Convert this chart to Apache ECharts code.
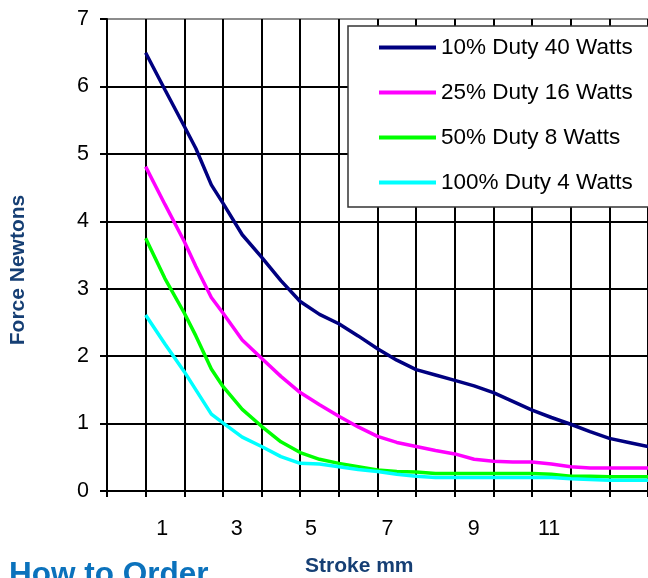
<!DOCTYPE html>
<html>
<head>
<meta charset="utf-8">
<script src="https://cdn.jsdelivr.net/npm/echarts@6/dist/echarts.min.js"></script>
<style>
  html, body { margin: 0; padding: 0; background: #fff; }
  #chart { width: 648px; height: 578px; }
</style>
</head>
<body>
<div id="chart"></div>
<script>
// ---- data ----
const seriesNames = ['10% Duty 40 Watts', '25% Duty 16 Watts', '50% Duty 8 Watts', '100% Duty 4 Watts'];
const strokeMm = [1, 1.5, 2, 2.3, 2.7, 3, 3.5, 4, 4.5, 5, 5.5, 6, 6.5, 7, 7.5, 8, 8.5, 9, 9.5, 10, 10.5, 11, 11.5, 12, 12.5, 13, 13.5, 14];
const duty10 = [6.50, 5.95, 5.41, 5.08, 4.54, 4.27, 3.80, 3.47, 3.12, 2.81, 2.62, 2.48, 2.30, 2.11, 1.94, 1.80, 1.72, 1.64, 1.56, 1.46, 1.33, 1.20, 1.09, 0.99, 0.88, 0.78, 0.72, 0.66];
const duty25 = [4.81, 4.25, 3.70, 3.33, 2.87, 2.64, 2.24, 1.97, 1.70, 1.46, 1.28, 1.11, 0.95, 0.81, 0.72, 0.66, 0.60, 0.55, 0.47, 0.44, 0.43, 0.43, 0.40, 0.36, 0.34, 0.34, 0.34, 0.34];
const duty50 = [3.75, 3.15, 2.64, 2.30, 1.81, 1.55, 1.21, 0.96, 0.73, 0.57, 0.47, 0.41, 0.36, 0.31, 0.29, 0.28, 0.26, 0.26, 0.26, 0.26, 0.26, 0.26, 0.25, 0.22, 0.22, 0.21, 0.21, 0.21];
const duty100 = [2.61, 2.18, 1.77, 1.50, 1.14, 1.01, 0.80, 0.66, 0.51, 0.41, 0.40, 0.36, 0.32, 0.29, 0.25, 0.22, 0.20, 0.20, 0.20, 0.20, 0.20, 0.20, 0.20, 0.18, 0.17, 0.16, 0.16, 0.16];
const xTickLabels = ['1', '3', '5', '7', '9', '11'];
const yTickValues = [0, 1, 2, 3, 4, 5, 6, 7];

// ---- layout / style ----
const xLabelPos = [1.43, 3.36, 5.28, 7.26, 9.49, 11.44];
const colors = ['#000080', '#FF00FF', '#00FF00', '#00FFFF'];
const FONT = '"Liberation Sans", Arial, sans-serif';

const allSeries = [duty10, duty25, duty50, duty100];
const chart = echarts.init(document.getElementById('chart'), null, { renderer: 'canvas' });

const gridColors = yTickValues.map((v, i) => i === yTickValues.length - 1 ? '#8c8c8c' : '#000');

const option = {
  animation: false,
  backgroundColor: '#fff',
  grid: { left: 107, top: 19, right: -4, bottom: 87, containLabel: false },
  xAxis: {
    type: 'value',
    min: 0, max: 14, interval: 1,
    axisLine: { show: true, onZero: false, lineStyle: { color: '#000', width: 2 } },
    axisTick: { show: true, length: 6, lineStyle: { color: '#000', width: 2 } },
    splitLine: { show: true, lineStyle: { color: '#000', width: 2 } },
    axisLabel: {
      show: true,
      customValues: xLabelPos,
      formatter: function (v) {
        let best = 0, d = Infinity;
        xLabelPos.forEach((p, i) => { if (Math.abs(p - v) < d) { d = Math.abs(p - v); best = i; } });
        return xTickLabels[best];
      },
      margin: 27,
      fontSize: 21.5,
      color: '#000',
      fontFamily: FONT
    }
  },
  yAxis: {
    type: 'value',
    min: 0, max: 7, interval: 1,
    axisLine: { show: true, lineStyle: { color: '#000', width: 2 } },
    axisTick: { show: true, length: 7, lineStyle: { color: '#000', width: 2 } },
    splitLine: { show: true, lineStyle: { color: gridColors, width: 2 } },
    axisLabel: { margin: 18, fontSize: 21.5, color: '#000', fontFamily: FONT }
  },
  legend: {
    data: seriesNames,
    orient: 'vertical',
    left: 348, top: 26,
    icon: 'rect',
    itemWidth: 57, itemHeight: 4,
    itemGap: 22,
    padding: [10, 30, 13, 31],
    backgroundColor: '#fff',
    borderColor: '#333',
    borderWidth: 1.5,
    borderRadius: 0,
    selectedMode: false,
    textStyle: { fontSize: 22.5, color: '#000', fontFamily: FONT, lineHeight: 22 }
  },
  graphic: [
    {
      type: 'text', x: 29, y: 270, rotation: Math.PI / 2,
      style: { text: 'Force Newtons', font: 'bold 21px ' + FONT, fill: '#163F74',
        textAlign: 'center', textVerticalAlign: 'bottom', align: 'center', verticalAlign: 'bottom' }
    },
    {
      type: 'text', left: 305, top: 556,
      style: { text: 'Stroke mm', font: 'bold 21px ' + FONT, fill: '#163F74' }
    },
    {
      type: 'text', left: 9, top: 559,
      style: { text: 'How to Order', font: 'bold 31.5px ' + FONT, fill: '#0B72BC' }
    }
  ],
  series: allSeries.map((vals, si) => ({
    name: seriesNames[si],
    type: 'line',
    data: strokeMm.map((x, i) => [x, vals[i]]),
    showSymbol: false,
    symbol: 'none',
    clip: true,
    color: colors[si],
    lineStyle: { color: colors[si], width: 3.5 },
    emphasis: { disabled: true }
  }))
};
chart.setOption(option);
</script>
</body>
</html>
